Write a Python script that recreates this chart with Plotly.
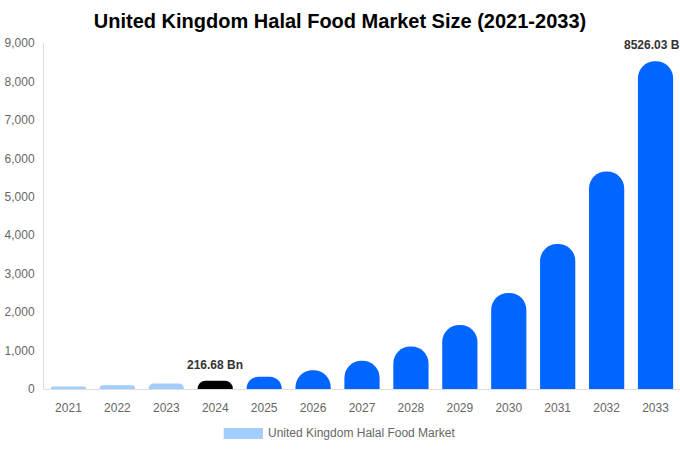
import plotly.graph_objects as go

# market size by year (USD Bn)
years = ["2021", "2022", "2023", "2024", "2025", "2026", "2027",
         "2028", "2029", "2030", "2031", "2032", "2033"]
market_size = [62, 95, 142, 216.68, 320, 488, 735, 1105, 1665, 2500, 3770, 5660, 8526.03]
bar_colors = ["#a3cdfd"] * 3 + ["#000000"] + ["#0066ff"] * 9
labelled_years = ["2024", "2033"]

series_name = "United Kingdom Halal Food Market"
legend_color = "#a3cdfd"

fig = go.Figure()
fig.add_trace(go.Bar(
    x=years, y=market_size,
    marker=dict(color=bar_colors, line=dict(width=0)),
    cliponaxis=False,
    name=series_name,
    showlegend=False,
    hoverinfo="skip",
))

# value labels above the highlighted bars
# (category axis: use the bar's index, a "2024" string would be read as index 2024)
for i, (yr, val) in enumerate(zip(years, market_size)):
    if yr in labelled_years:
        fig.add_annotation(x=i, y=val, text="<b>%.2f Bn</b>" % val,
                           showarrow=False, yanchor="bottom", yshift=7,
                           font=dict(family="Liberation Sans, Arial", size=12, color="#333333"))

# legend drawn by hand: wide swatch + label under the axis
fig.add_shape(type="rect", xref="paper", yref="paper",
              x0=0.2826, x1=0.3443, y0=-0.1445, y1=-0.1127,
              fillcolor=legend_color, line=dict(width=0))
fig.add_annotation(text=series_name, xref="paper", yref="paper",
                   x=0.349, y=-0.1286, xanchor="left", yanchor="middle",
                   showarrow=False,
                   font=dict(family="Liberation Sans, Arial", size=12, color="#666666"))

fig.update_layout(
    title=dict(text="<b>United Kingdom Halal Food Market Size (2021-2033)</b>",
               x=0.5, xanchor="center", y=0.953, yanchor="middle",
               xref="container",
               font=dict(family="Liberation Sans, Arial", size=20, color="#000000")),
    width=680, height=450,
    margin=dict(l=44, r=0, t=43, b=61),
    paper_bgcolor="white", plot_bgcolor="white",
    bargap=0.28,
    barcornerradius=18,
    font=dict(family="Liberation Sans, Arial", size=12, color="#666666"),
)
fig.update_xaxes(type="category", range=[-0.5, len(years) - 0.5],
                 showgrid=False, showline=True, linecolor="#dddddd",
                 linewidth=1, ticks="", tickfont=dict(size=12, color="#666666"),
                 ticklabelstandoff=8)
fig.update_yaxes(range=[0, 9000], dtick=1000, tickformat=",", showgrid=False,
                 zeroline=False, showline=True, linecolor="#dddddd", linewidth=1,
                 ticks="", tickfont=dict(size=12, color="#666666"), ticklabelstandoff=6)

# drop the browser's default body margin so the chart sits at the page corner
fig.write_html("out.html", config={"displayModeBar": False},
               post_script="document.body.style.margin='0';")
